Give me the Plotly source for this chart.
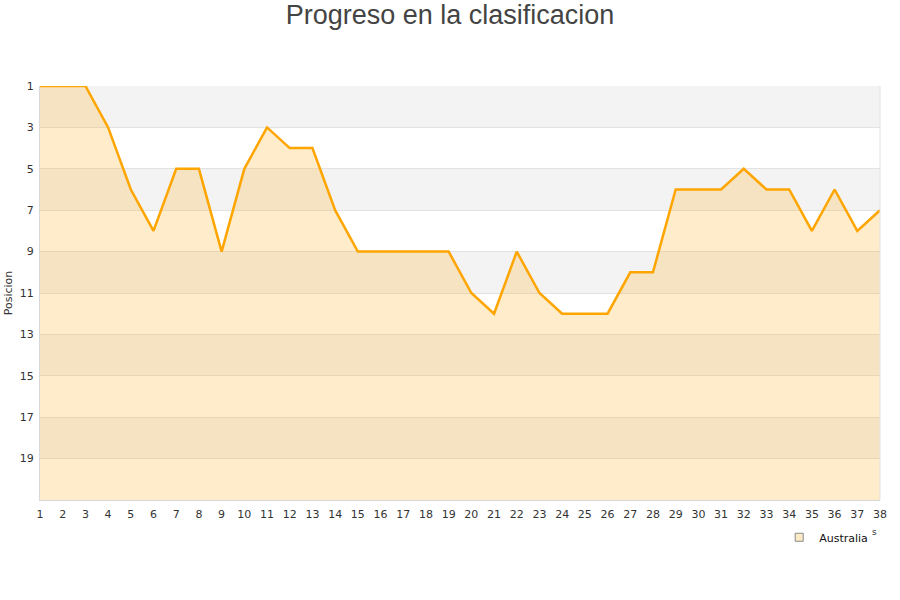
import plotly.graph_objects as go

jornadas = list(range(1, 39))
posiciones = [1, 1, 1, 3, 6, 8, 5, 5, 9, 5, 3, 4, 4, 7, 9, 9, 9, 9, 9, 11, 12, 9, 11, 12, 12, 12,
              10, 10, 6, 6, 6, 5, 6, 6, 8, 6, 8, 7]
equipo = "Australia"
y_ticks = [1, 3, 5, 7, 9, 11, 13, 15, 17, 19]
y_min, y_max = 1, 21

fig = go.Figure()

# baseline for fill
fig.add_trace(go.Scatter(x=jornadas, y=[y_max] * len(jornadas), mode="lines",
                         line=dict(width=0, color="rgba(0,0,0,0)"), showlegend=False,
                         hoverinfo="skip"))
fig.add_trace(go.Scatter(x=jornadas, y=posiciones, mode="lines", fill="tonexty",
                         fillcolor="rgba(251,179,47,0.25)",
                         line=dict(color="#FFA500", width=2.5), showlegend=False,
                         name=equipo))
# legend entry
fig.add_trace(go.Scatter(x=[None], y=[None], mode="markers", name=equipo,
                         marker=dict(symbol="square", size=8, color="#FDEBC8",
                                     line=dict(color="#888888", width=1))))

shapes = []
for i, start in enumerate(range(1, 21, 2)):
    if i % 2 == 0:
        shapes.append(dict(type="rect", xref="paper", yref="y", x0=0, x1=1,
                           y0=start, y1=start + 2, fillcolor="#F3F3F3",
                           line=dict(width=0), layer="below"))

fig.update_layout(
    width=900, height=600,
    margin=dict(l=40, r=20, t=86, b=100),
    paper_bgcolor="white", plot_bgcolor="white",
    title=dict(text="Progreso en la clasificacion", x=0.5, xanchor="center",
               y=1 - 15 / 600, yanchor="middle",
               font=dict(family="Liberation Sans, Arial", size=27, color="#444444")),
    font=dict(family="DejaVu Sans", size=11, color="#333333"),
    shapes=shapes,
    xaxis=dict(range=[1, 38], tickmode="array", tickvals=jornadas,
               ticktext=[str(j) for j in jornadas], showgrid=False, zeroline=False,
               showline=True, linecolor="#D8D8D8", linewidth=1, ticks="",
               tickfont=dict(size=11, color="#333333"), fixedrange=True,
               ticklabelstandoff=4, automargin=False),
    yaxis=dict(range=[y_max, y_min], tickmode="array", tickvals=y_ticks,
               ticktext=[str(v) for v in y_ticks], showgrid=True, gridcolor="#E2E2E2",
               gridwidth=1, zeroline=False, showline=True, linecolor="#D8D8D8",
               mirror=False, ticks="", tickfont=dict(size=11, color="#333333"),
               ticklabelstandoff=3, automargin=False,
               title=dict(text="Posicion", font=dict(size=11, color="#333333"), standoff=4)),
    legend=dict(x=0.88, y=-0.09, xanchor="left", yanchor="middle",
                font=dict(size=11, color="#111111"), bgcolor="rgba(0,0,0,0)"),
    showlegend=True,
)
fig.add_annotation(text="s", xref="paper", yref="paper", x=0.9986, y=-0.093,
                   showarrow=False, font=dict(size=9, color="#333333"))
fig.add_shape(type="line", xref="paper", yref="paper", x0=1, x1=1, y0=0, y1=1,
              line=dict(color="#E2E2E2", width=1))

fig.write_html("out.html", config={"displayModeBar": False},
               post_script="document.body.style.margin='0';")
